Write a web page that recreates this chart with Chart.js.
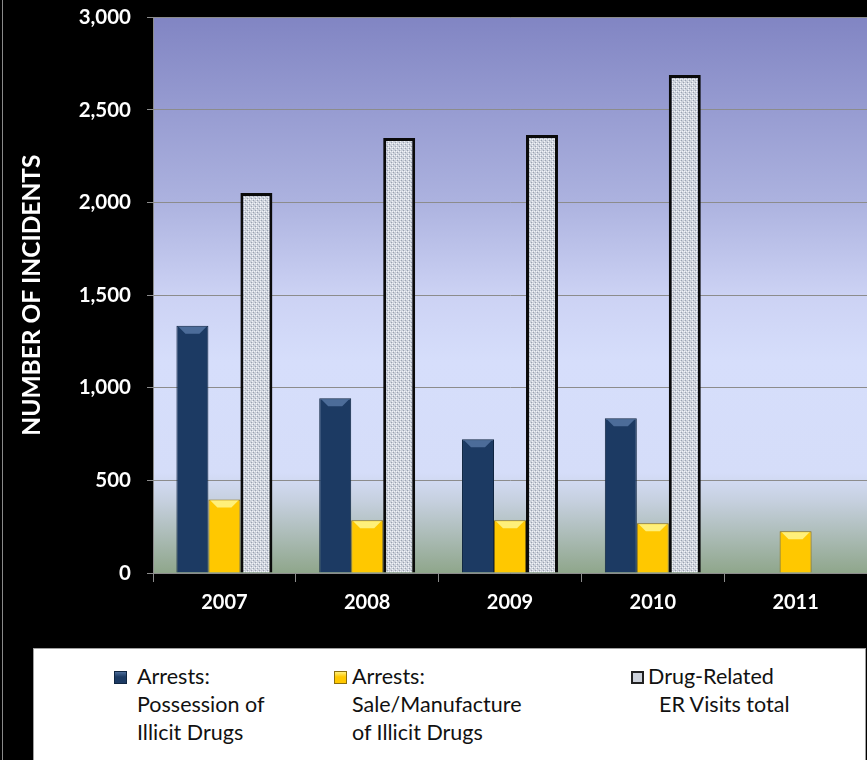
<!DOCTYPE html>
<html>
<head>
<meta charset="utf-8">
<script src="https://cdn.jsdelivr.net/npm/chart.js@4.4.1/dist/chart.umd.min.js"></script>
<style>
    html, body { margin: 0; padding: 0; background: #000; }
    .wrap { position: relative; width: 867px; height: 760px; overflow: hidden; background: #000; }
    .edge { position: absolute; left: 2px; top: 0; width: 1px; height: 760px; background: #8a8a8a; }
    .chart-box { position: absolute; left: 0; top: -11px; width: 867px; height: 656px; }
    .legend {
        position: absolute; left: 33px; top: 648px; width: 831px; height: 130px;
        background: #fff; border: 1px solid #a0a0a0;
        font-family: Lato, "Open Sans", sans-serif; font-size: 21.5px; color: #111;
    }
    .item { position: absolute; top: 13px; line-height: 28px; }
    .item .mark { position: absolute; top: 9px; width: 13px; height: 13px; box-sizing: border-box; }
    .item .txt { position: absolute; left: 0; white-space: pre; }
</style>
</head>
<body>
<div class="wrap">
    <div class="chart-box"><canvas id="drugChart" width="867" height="656"></canvas></div>
    <div class="edge"></div>
    <div class="legend" id="legend"></div>
</div>
<script>
const years = ['2007', '2008', '2009', '2010', '2011'];
const possession = [1335, 943, 722, 835, null];
const saleManufacture = [397, 285, 285, 269, 226];
const erVisits = [2052, 2348, 2364, 2688, null];
const seriesNames = [
    ['Arrests:', 'Possession of', 'Illicit Drugs'],
    ['Arrests:', 'Sale/Manufacture', 'of Illicit Drugs'],
    ['Drug-Related', '  ER Visits total']
];

// dotted fill for the ER visits bars
const makePattern = () => {
    const c = document.createElement('canvas');
    c.width = 4; c.height = 4;
    const g = c.getContext('2d');
    g.fillStyle = '#cdd2db';
    g.fillRect(0, 0, 4, 4);
    g.fillStyle = '#f2f4f8';
    g.fillRect(0, 0, 1, 1);
    g.fillRect(2, 2, 1, 1);
    g.fillRect(0, 2, 1, 1);
    g.fillStyle = '#9aa2b1';
    g.fillRect(1, 3, 1, 1);
    g.fillRect(3, 1, 1, 1);
    return g.createPattern(c, 'repeat');
};

const plotBackground = {
    id: 'plotBackground',
    beforeDraw: (chart) => {
        const { ctx, chartArea: a } = chart;
        const grad = ctx.createLinearGradient(0, a.top, 0, a.bottom);
        grad.addColorStop(0, '#8185c3');
        grad.addColorStop(0.33, '#acb2df');
        grad.addColorStop(0.5, '#ccd2f4');
        grad.addColorStop(0.62, '#d6defb');
        grad.addColorStop(0.82, '#d5ddf9');
        grad.addColorStop(0.87, '#c6d0df');
        grad.addColorStop(1, '#8fa68b');
        ctx.save();
        ctx.fillStyle = grad;
        ctx.fillRect(a.left, a.top, a.right - a.left, a.bottom - a.top);
        ctx.restore();
    }
};

// lighter bevel on the top of the solid bars
const bevel = {
    id: 'bevel',
    afterDatasetsDraw: (chart) => {
        const ctx = chart.ctx;
        const tops = ['#4c6c99', '#fff07a'];
        [0, 1].forEach(i => {
            const values = chart.data.datasets[i].data;
            chart.getDatasetMeta(i).data.forEach((bar, j) => {
                if (values[j] == null) return;
                const w = bar.width, l = bar.x - w / 2, r = bar.x + w / 2, b = 7;
                ctx.save();
                ctx.fillStyle = tops[i];
                ctx.beginPath();
                ctx.moveTo(l + 2, bar.y + 1);
                ctx.lineTo(r - 2, bar.y + 1);
                ctx.lineTo(r - 2 - b, bar.y + 1 + b);
                ctx.lineTo(l + 2 + b, bar.y + 1 + b);
                ctx.closePath();
                ctx.fill();
                ctx.restore();
            });
        });
    }
};

const font = 'Lato, "Open Sans", sans-serif';

new Chart(document.getElementById('drugChart'), {
    type: 'bar',
    data: {
        labels: years,
        datasets: [
            { label: 'Arrests: Possession of Illicit Drugs', data: possession,
              backgroundColor: '#1c3a63', borderColor: '#102642', borderWidth: 1 },
            { label: 'Arrests: Sale/Manufacture of Illicit Drugs', data: saleManufacture,
              backgroundColor: '#ffc800', borderColor: '#8c6f0c', borderWidth: 1 },
            { label: 'Drug-Related ER Visits total', data: erVisits,
              backgroundColor: makePattern(), borderColor: '#0a0a0a', borderWidth: 3 }
        ]
    },
    options: {
        responsive: false,
        animation: false,
        layout: { padding: { top: 6, right: 0, left: 0, bottom: 0 } },
        datasets: { bar: { categoryPercentage: 0.672, barPercentage: 1 } },
        plugins: { legend: { display: false }, tooltip: { enabled: false } },
        scales: {
            x: {
                grid: { drawOnChartArea: false, offset: true, tickLength: 9, color: '#8c8c8c' },
                border: { color: '#8c8c8c' },
                ticks: { color: '#fff', padding: 9, font: { family: font, size: 20, weight: 'bold' } },
                afterFit: (s) => { s.height = 72; }
            },
            y: {
                min: 0, max: 3000,
                ticks: {
                    stepSize: 500, color: '#fff', padding: 16,
                    font: { family: font, size: 20.5, weight: 'bold' },
                    callback: (v) => v.toLocaleString('en-US')
                },
                grid: { color: '#8c8c8c', tickLength: 6 },
                border: { color: '#8c8c8c' },
                title: {
                    display: true, text: 'NUMBER OF INCIDENTS', color: '#fff',
                    padding: { top: 17, bottom: 0 },
                    font: { family: font, size: 24.5, weight: 'bold' }
                },
                afterFit: (s) => { s.width = 153; }
            }
        }
    },
    plugins: [plotBackground, bevel]
});

// legend box
const legend = document.getElementById('legend');
const markers = [
    { left: 80, text: 103, style: 'background:linear-gradient(#4c6c99,#1c3a63 45%);border:1px solid #102642;' },
    { left: 300, text: 318, style: 'background:linear-gradient(#fff07a,#ffc800 45%);border:1px solid #8c6f0c;' },
    { left: 597, text: 614, style: 'background:#cdd2db;border:2px solid #222;' }
];
markers.forEach((m, i) => {
    const item = document.createElement('div');
    item.className = 'item';
    item.style.left = m.left + 'px';
    item.innerHTML = `<div class="mark" style="${m.style}"></div>` +
        seriesNames[i].map((t, k) =>
            `<div class="txt" style="left:${m.text - m.left}px;top:${k * 28}px">${t}</div>`
        ).join('');
    legend.appendChild(item);
});
</script>
</body>
</html>
